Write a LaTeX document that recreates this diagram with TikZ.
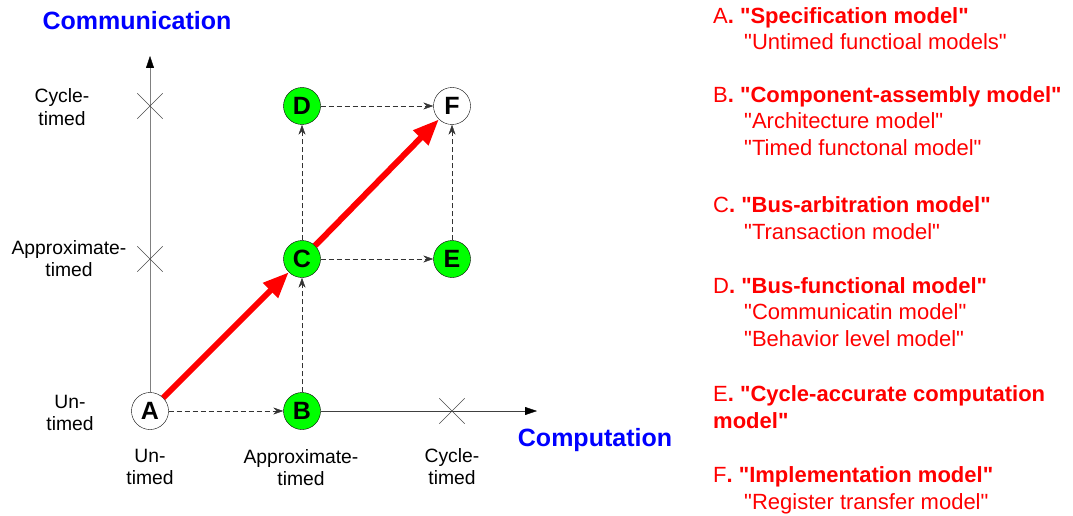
\documentclass[tikz,border=0pt]{standalone}
\usepackage{fontspec}
\setmainfont{Liberation Sans}[Ligatures=TeXOff]
\usetikzlibrary{arrows.meta,shapes.misc}

\begin{document}
\begin{tikzpicture}[x=1pt,y=-1pt,
  stage/.style={circle,draw,thin,minimum size=37pt,inner sep=0pt,
                font=\fontsize{25}{25}\selectfont\bfseries},
  done/.style={stage,fill=green},
  open/.style={stage,fill=white},
  tick/.style={cross out,draw=black!70,thin,minimum size=25pt,inner sep=0pt},
  lvl/.style={font=\fontsize{19.3}{22}\selectfont,align=center,inner sep=0pt,
              anchor=base},
  axname/.style={font=\fontsize{25}{30}\selectfont\bfseries,text=blue,
                 inner sep=0pt,anchor=base},
  refine/.style={-{Stealth[length=10pt,width=7pt]},black!80,
                 dash pattern=on 5pt off 3pt},
  flow/.style={-{Triangle[length=26pt,width=20pt]},red,line width=6pt},
  model/.style={text=red,font=\fontsize{22}{26.5}\selectfont,align=left,
                inner sep=0pt,anchor=base west},
]
  \useasboundingbox (0,0) rectangle (1073,516);

  % Models on the grid
  \node[open] (a) at (150,411) {A};
  \node[done] (b) at (302,411) {B};
  \node[done] (c) at (302,259) {C};
  \node[done] (d) at (302,106) {D};
  \node[done] (e) at (452,259) {E};
  \node[open] (f) at (452,106) {F};

  % Axes
  \coordinate (ytip) at (150,56);
  \coordinate (xtip) at (537,411);
  \draw[black!50,-{Triangle[length=12pt,width=8pt,color=black]}] (a) -- (ytip);
  \draw[black!75,-{Triangle[length=12pt,width=8pt,color=black]}] (b) -- (xtip);

  % Timing marks
  \node[tick] (yct) at (150,106) {};
  \node[tick] (yat) at (150,259) {};
  \node[tick] (xct) at (452,411) {};

  % Axis names
  \node[axname] (comm) at (137,30) {Communication};
  \node[axname] (comp) at (595,446) {Computation};

  % Level labels, communication (base = last line)
  \node[lvl] (lct) at (62,125) {Cycle-\\timed};
  \node[lvl] (lat) at (69,276) {Approximate-\\timed};
  \node[lvl] (lut) at (70,430) {Un-\\timed};

  % Level labels, computation
  \node[lvl] (but) at (150,484) {Un-\\timed};
  \node[lvl] (bat) at (301,485) {Approximate-\\timed};
  \node[lvl] (bct) at (452,484) {Cycle-\\timed};

  % Refinement steps
  \draw[refine] (a) -- (b);
  \draw[refine] (b) -- (c);
  \draw[refine] (c) -- (d);
  \draw[refine] (c) -- (e);
  \draw[refine] (d) -- (f);
  \draw[refine] (e) -- (f);

  % Design flow
  \draw[flow] (a) -- (c);
  \draw[flow] (c) -- (f);

  % Model list (base = last line)
  \node[model] (ma) at (713,50)
    {A\textbf{. "Specification model"}\\
     \hspace*{31pt}"Untimed functioal models"};
  \node[model] (mb) at (713,155)
    {B\textbf{. "Component-assembly model"}\\
     \hspace*{31pt}"Architecture model"\\
     \hspace*{31pt}"Timed functonal model"};
  \node[model] (mc) at (713,239)
    {C\textbf{. "Bus-arbitration model"}\\
     \hspace*{31pt}"Transaction model"};
  \node[model] (md) at (713,346)
    {D\textbf{. "Bus-functional model"}\\
     \hspace*{31pt}"Communicatin model"\\
     \hspace*{31pt}"Behavior level model"};
  \node[model] (me) at (713,428)
    {E\textbf{. "Cycle-accurate computation}\\
     \textbf{model"}};
  \node[model] (mf) at (713,509)
    {F\textbf{. "Implementation model"}\\
     \hspace*{31pt}"Register transfer model"};
\end{tikzpicture}
\end{document}
